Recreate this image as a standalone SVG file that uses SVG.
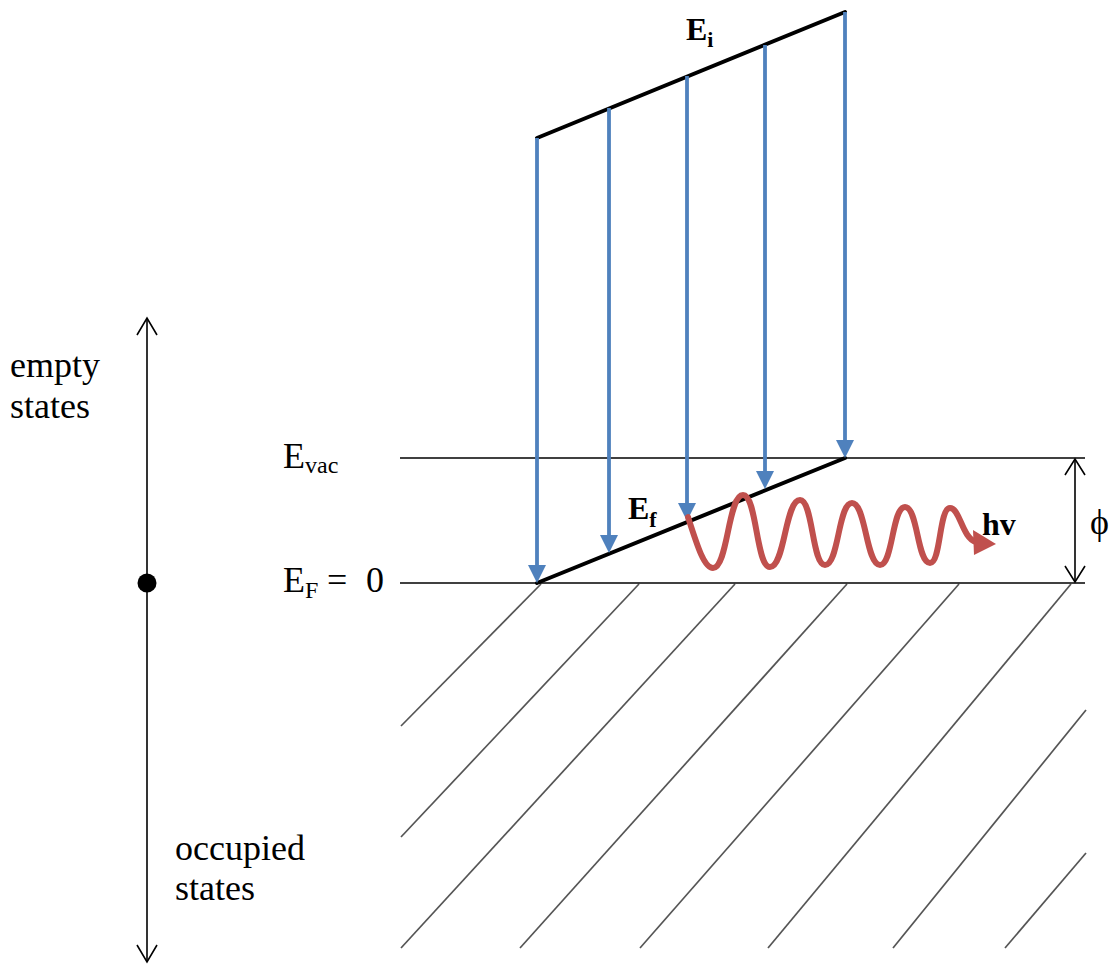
<svg xmlns="http://www.w3.org/2000/svg" width="1120" height="966" viewBox="0 0 1120 966">
<style>
.t{font-family:"Liberation Serif","Times New Roman",serif;fill:#000}
.b{font-weight:bold}
.thin{stroke:#000;stroke-width:1.6;fill:none}
.hatch{stroke:#555;stroke-width:1.7;fill:none}
.level{stroke:#000;stroke-width:4;stroke-linecap:round;fill:none}
.blue{stroke:#4F81BD;stroke-width:3.8;fill:none}
.bluehead{fill:#4F81BD}
.wave{stroke:#C0504D;stroke-width:6;fill:none;stroke-linecap:round;stroke-linejoin:round}
</style>
<rect width="1120" height="966" fill="#fff"/>
<g id="hatching">
<line class="hatch" x1="541" y1="584" x2="401" y2="726"/>
<line class="hatch" x1="639" y1="584" x2="401" y2="837"/>
<line class="hatch" x1="735" y1="584" x2="401" y2="948"/>
<line class="hatch" x1="847" y1="584" x2="520" y2="948"/>
<line class="hatch" x1="959" y1="584" x2="640" y2="948"/>
<line class="hatch" x1="1071" y1="584" x2="768" y2="948"/>
<line class="hatch" x1="1086" y1="710" x2="893" y2="948"/>
<line class="hatch" x1="1086" y1="853" x2="1005" y2="948"/>
</g>
<g id="levels">
<line class="thin" x1="400" y1="458" x2="1085" y2="458"/>
<line class="thin" x1="400" y1="583" x2="1085" y2="583"/>
</g>
<g id="energy-axis">
<line class="thin" x1="147" y1="318" x2="147" y2="962"/>
<polyline class="thin" points="137,335 147,318 157,335"/>
<polyline class="thin" points="137,945 147,962 157,945"/>
<circle cx="147" cy="583" r="9.5" fill="#000"/>
<text class="t" x="10" y="377" font-size="36">empty</text>
<text class="t" x="10" y="418" font-size="36">states</text>
<text class="t" x="175" y="860" font-size="36">occupied</text>
<text class="t" x="175" y="900" font-size="36">states</text>
</g>
<g id="labels">
<text class="t" x="283" y="468" font-size="36">E<tspan font-size="24" dy="5">vac</tspan></text>
<text class="t" x="283" y="592" font-size="36">E<tspan font-size="24" dy="6">F</tspan><tspan x="327" dy="-6">=</tspan><tspan x="366">0</tspan></text>
</g>
<g id="phi">
<line class="thin" x1="1075" y1="459" x2="1075" y2="582"/>
<polyline class="thin" points="1065,475 1075,459 1085,475"/>
<polyline class="thin" points="1065,566 1075,582 1085,566"/>
<text class="t" x="1090" y="534" font-size="36">ϕ</text>
</g>
<g id="Ei">
<line class="level" x1="537" y1="138" x2="845" y2="12"/>
<text class="t b" x="686" y="40" font-size="32">E<tspan font-size="22" dy="7">i</tspan></text>
</g>
<g id="Ef">
<line class="level" x1="537" y1="583" x2="845" y2="458"/>
<text class="t b" x="628" y="519" font-size="32">E<tspan font-size="22" dy="8">f</tspan></text>
</g>
<g id="connectors">
<line class="blue" x1="537" y1="138" x2="537" y2="567"/>
<polygon class="bluehead" points="528,565 546,565 537,583"/>
<line class="blue" x1="609" y1="108" x2="609" y2="537"/>
<polygon class="bluehead" points="600,535 618,535 609,553"/>
<line class="blue" x1="687" y1="76" x2="687" y2="505"/>
<polygon class="bluehead" points="678,503 696,503 687,521"/>
<line class="blue" x1="765" y1="45" x2="765" y2="473"/>
<polygon class="bluehead" points="756,471 774,471 765,489"/>
<line class="blue" x1="845" y1="12" x2="845" y2="442"/>
<polygon class="bluehead" points="836,440 854,440 845,458"/>
</g>
<g id="photon">
<path class="wave" d="M688,517 C697,545 704,568 713,568 C728,568 728,495 743,495 C757,495 756,567 770,567 C785,567 785,500 800,500 C813,500 812,565 825,565 C839,565 838,503 852,503 C866,503 866,565 880,565 C893,565 892,507 905,507 C918,507 917,563 930,563 C941,563 939,508 950,508 C960,508 962,538 976,542"/>
<polygon fill="#C0504D" points="996,544 973,530 974,555"/>
<text class="t b" x="982" y="535" font-size="32">hv</text>
</g>
</svg>
